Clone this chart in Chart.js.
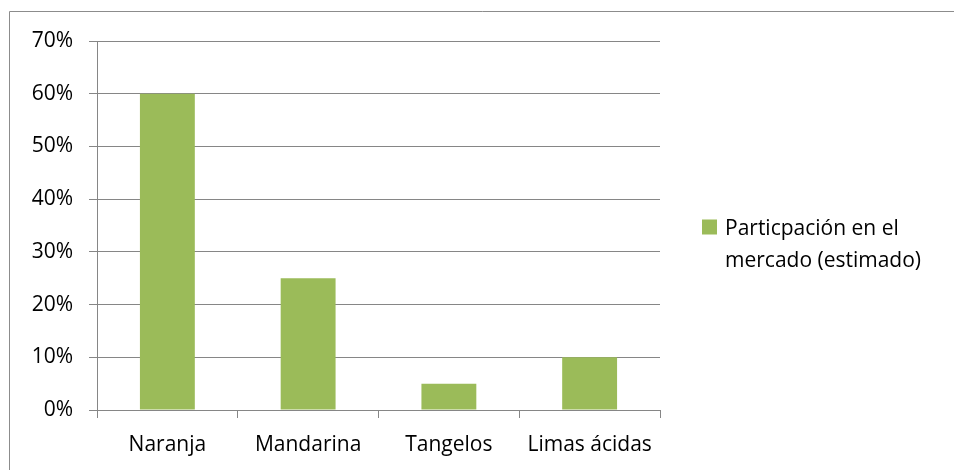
<!DOCTYPE html>
<html>
<head>
<meta charset="utf-8">
<script src="https://cdn.jsdelivr.net/npm/chart.js@4/dist/chart.umd.min.js"></script>
<style>
  html, body { margin: 0; padding: 0; background: #fff; }
  #wrap { width: 954px; height: 470px; position: relative; }
</style>
</head>
<body>
<div id="wrap"><canvas id="chartMercado"></canvas></div>
<script>
// Participación estimada por tipo de cítrico
const categorias = ['Naranja', 'Mandarina', 'Tangelos', 'Limas ácidas'];
const participacion = [60, 25, 5, 10];
const etiquetaSerie = 'Particpación en el mercado (estimado)';
const ticksEje = [0, 10, 20, 30, 40, 50, 60, 70];

const FUENTE = "'Open Sans', sans-serif";
const VERDE = '#9BBB59';
const GRIS = '#868686';

// marco exterior, solo bordes superior e izquierdo
const marco = {
    id: 'marco',
    beforeDraw(chart) {
        const ctx = chart.ctx;
        ctx.save();
        ctx.strokeStyle = '#8c8c8c';
        ctx.lineWidth = 1;
        ctx.beginPath();
        ctx.moveTo(9.5, chart.height + 2);
        ctx.lineTo(9.5, 11.5);
        ctx.lineTo(chart.width + 2, 11.5);
        ctx.stroke();
        ctx.restore();
    }
};

// leyenda a la derecha con el texto partido en varias líneas
const leyenda = {
    id: 'leyendaDerecha',
    afterDraw(chart) {
        const ctx = chart.ctx;
        const area = chart.chartArea;
        const ds = chart.data.datasets[0];
        ctx.save();
        ctx.font = '21px ' + FUENTE;
        const maxAncho = 215;
        const palabras = ds.label.split(' ');
        const lineas = [];
        let actual = '';
        palabras.forEach(p => {
            const prueba = actual ? actual + ' ' + p : p;
            if (ctx.measureText(prueba).width > maxAncho && actual) {
                lineas.push(actual);
                actual = p;
            } else {
                actual = prueba;
            }
        });
        if (actual) lineas.push(actual);

        const x = area.right + 42;
        const y0 = (area.top + area.bottom) / 2 + 9;
        const salto = 32;
        ctx.fillStyle = ds.backgroundColor;
        ctx.fillRect(x, y0 - 15, 15, 15);
        ctx.fillStyle = '#000';
        ctx.textBaseline = 'alphabetic';
        ctx.textAlign = 'left';
        lineas.forEach((l, i) => ctx.fillText(l, x + 23, y0 + i * salto));
        ctx.restore();
    }
};

const ctx = document.getElementById('chartMercado').getContext('2d');

new Chart(ctx, {
    type: 'bar',
    data: {
        labels: categorias,
        datasets: [{
            label: etiquetaSerie,
            data: participacion,
            backgroundColor: VERDE,
            borderWidth: 0,
            categoryPercentage: 1,
            barPercentage: 0.39
        }]
    },
    options: {
        responsive: true,
        maintainAspectRatio: false,
        animation: false,
        layout: {
            padding: { left: 0, right: 294, top: 41, bottom: 0 }
        },
        plugins: {
            legend: { display: false },
            tooltip: { enabled: false }
        },
        scales: {
            x: {
                offset: true,
                grid: {
                    offset: true,
                    drawOnChartArea: false,
                    color: GRIS,
                    tickLength: 8
                },
                border: { color: GRIS },
                ticks: {
                    color: '#000',
                    font: { family: FUENTE, size: 21 },
                    padding: 14,
                    maxRotation: 0
                },
                afterFit(scale) { scale.height = 60; }
            },
            y: {
                min: 0,
                max: 70,
                afterBuildTicks(scale) {
                    scale.ticks = ticksEje.map(v => ({ value: v }));
                },
                grid: { color: GRIS, tickLength: 8 },
                border: { color: GRIS },
                ticks: {
                    color: '#000',
                    font: { family: FUENTE, size: 21 },
                    padding: 16,
                    callback: v => v + '%'
                },
                afterFit(scale) { scale.width = 97; }
            }
        }
    },
    plugins: [marco, leyenda]
});
</script>
</body>
</html>
